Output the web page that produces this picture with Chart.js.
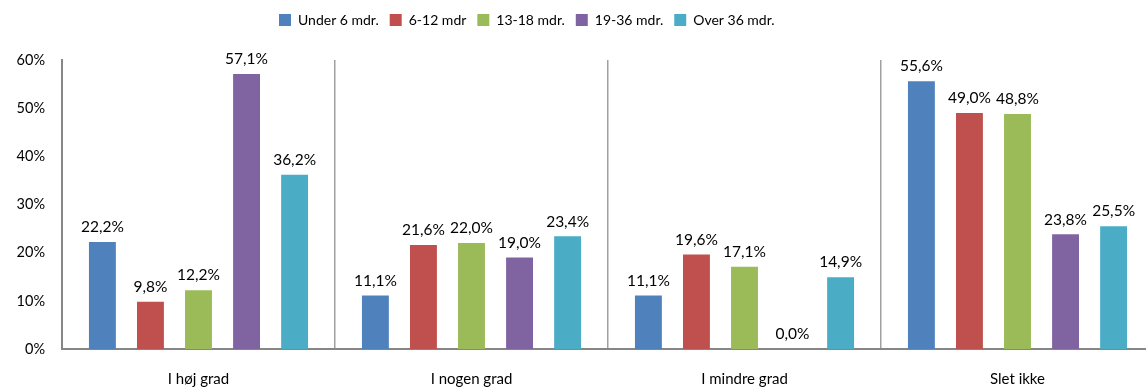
<!DOCTYPE html>
<html>
<head>
<meta charset="utf-8">
<script src="https://cdn.jsdelivr.net/npm/chart.js@4/dist/chart.umd.min.js"></script>
<style>
  html, body { margin: 0; padding: 0; background: #fff; overflow: hidden; }
  #wrap { width: 1156px; height: 388px; position: relative; }
</style>
</head>
<body>
<div id="wrap"><canvas id="chart"></canvas></div>
<script>
const categories = ["I høj grad", "I nogen grad", "I mindre grad", "Slet ikke"];
const seriesNames = ["Under 6 mdr.", "6-12 mdr", "13-18 mdr.", "19-36 mdr.", "Over 36 mdr."];
const under6 = [22.2, 11.1, 11.1, 55.6];
const m6to12 = [9.8, 21.6, 19.6, 49.0];
const m13to18 = [12.2, 22.0, 17.1, 48.8];
const m19to36 = [57.1, 19.0, 0.0, 23.8];
const over36 = [36.2, 23.4, 14.9, 25.5];
const yTicks = [0, 10, 20, 30, 40, 50, 60];

const colors = ["#4F81BD", "#C0504D", "#9BBB59", "#8064A2", "#4BACC6"];
const FONT = "Lato, 'Open Sans', sans-serif";

function pct(v) {
  return v.toFixed(1).replace(".", ",") + "%";
}

// fixed legend box: height and where the items start
const legendPlace = {
  id: "legendPlace",
  beforeUpdate(chart) {
    const lg = chart.legend;
    if (lg && !lg._patched) {
      const fit = lg.fit;
      lg.fit = function () { fit.call(this); this.height = 60; };
      lg._patched = true;
    }
  },
  afterLayout(chart) {
    const lg = chart.legend;
    const pad = lg.options.labels.padding;
    lg.left = 279 - pad;
    lg.top = 20 - 7 - pad;
  }
};

// value labels above the bars
const barLabels = {
  id: "barLabels",
  afterDatasetsDraw(chart) {
    const ctx = chart.ctx;
    ctx.save();
    ctx.font = "15.5px " + FONT;
    ctx.fillStyle = "#000";
    ctx.textAlign = "center";
    ctx.textBaseline = "bottom";
    chart.data.datasets.forEach((ds, i) => {
      chart.getDatasetMeta(i).data.forEach((bar, j) => {
        ctx.fillText(pct(ds.data[j]), bar.x, bar.y - 7);
      });
    });
    ctx.restore();
  }
};

const allSeries = [under6, m6to12, m13to18, m19to36, over36];

new Chart(document.getElementById("chart"), {
  type: "bar",
  data: {
    labels: categories,
    datasets: allSeries.map((d, i) => ({
      label: seriesNames[i],
      data: d,
      backgroundColor: colors[i],
      borderWidth: 0,
      barPercentage: 0.56,
      categoryPercentage: 0.88
    }))
  },
  options: {
    responsive: true,
    maintainAspectRatio: false,
    animation: false,
    layout: { padding: { left: 0, right: 2, top: 0, bottom: 0 } },
    plugins: {
      legend: {
        position: "top",
        align: "start",
        labels: {
          boxWidth: 12,
          boxHeight: 12,
          padding: 11,
          color: "#000",
          font: { family: FONT, size: 14 }
        }
      },
      tooltip: { enabled: false }
    },
    scales: {
      x: {
        offset: true,
        grid: { display: true, offset: true, drawTicks: false, color: "#a0a0a0", lineWidth: 1.5 },
        border: { display: true, color: "#868686", width: 2 },
        ticks: { color: "#000", padding: 21, font: { family: FONT, size: 15 } },
        afterFit(scale) { scale.height = 39; }
      },
      y: {
        min: 0,
        max: 60,
        grid: { display: false, drawTicks: false },
        border: { display: true, color: "#868686", width: 2 },
        afterBuildTicks(scale) { scale.ticks = yTicks.map(v => ({ value: v })); },
        ticks: {
          color: "#000",
          padding: 17,
          font: { family: FONT, size: 14.5 },
          callback: v => v + "%"
        },
        afterFit(scale) { scale.width = 62; }
      }
    }
  },
  plugins: [legendPlace, barLabels]
});
</script>
</body>
</html>
